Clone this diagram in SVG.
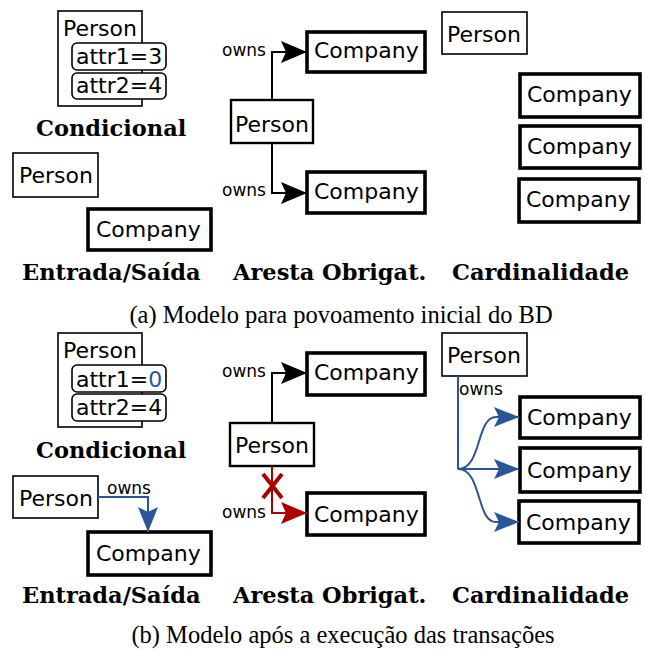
<svg xmlns="http://www.w3.org/2000/svg" width="645" height="650" viewBox="0 0 645 650">
<style>
.bg{fill:#fff}
.box{fill:#fff;stroke:#000}
.thin{stroke-width:1.6}
.mid{stroke-width:2.4}
.thick{stroke-width:3.6}
.attr{fill:#fff;stroke:#000;stroke-width:1.6}
.t{font-family:"DejaVu Sans",sans-serif;font-size:22px;fill:#000}
.lbl{font-family:"DejaVu Sans",sans-serif;font-size:17px;fill:#000}
.cap{font-family:"DejaVu Serif",serif;font-size:22.5px;font-weight:bold;fill:#000}
.sub{font-family:"Liberation Serif","Times New Roman",serif;font-size:24.5px;fill:#000;text-anchor:middle}
.ek{fill:none;stroke:#000;stroke-width:2}
.eb{fill:none;stroke:#2a5599;stroke-width:2}
.er{fill:none;stroke:#aa0000;stroke-width:2}
</style>
<defs>
<marker id="aK" markerUnits="userSpaceOnUse" markerWidth="28" markerHeight="24" refX="26" refY="12" orient="auto"><path d="M0,1 L26,12 L0,23 L5,12 Z" fill="#000"/></marker>
<marker id="aR" markerUnits="userSpaceOnUse" markerWidth="28" markerHeight="24" refX="26" refY="12" orient="auto"><path d="M0,1 L26,12 L0,23 L5,12 Z" fill="#aa0000"/></marker>
<marker id="aB" markerUnits="userSpaceOnUse" markerWidth="28" markerHeight="24" refX="25" refY="12" orient="auto"><path d="M0,2 L25,12 L0,22 L5,12 Z" fill="#2a5599"/></marker>
</defs>
<rect class="bg" x="0" y="0" width="645" height="650"/>

<!-- ===== (a) ===== -->
<g id="a-cond-person">
<rect class="box thin" x="58" y="11" width="84" height="95"/>
<text class="t" x="63" y="36">Person</text>
</g>
<g id="a-cond-attr1">
<rect class="attr" x="72" y="43" width="94" height="27" rx="5"/>
<text class="t" x="76" y="64">attr1=3</text>
</g>
<g id="a-cond-attr2">
<rect class="attr" x="72" y="73" width="94" height="26" rx="5"/>
<text class="t" x="76" y="93">attr2=4</text>
</g>
<text class="cap" x="36" y="136">Condicional</text>

<g id="a-io-person">
<rect class="box thin" x="13" y="153" width="85" height="44"/>
<text class="t" x="19" y="183">Person</text>
</g>
<g id="a-io-company">
<rect class="box thick" x="88" y="209" width="123" height="41"/>
<text class="t" x="96" y="237">Company</text>
</g>

<g id="a-ae-company1">
<rect class="box thick" x="307" y="32" width="118" height="40"/>
<text class="t" x="314" y="58">Company</text>
</g>
<g id="a-ae-person">
<rect class="box mid" x="231" y="100" width="82" height="43"/>
<text class="t" x="235" y="132">Person</text>
</g>
<g id="a-ae-company2">
<rect class="box thick" x="307" y="172" width="118" height="41"/>
<text class="t" x="314" y="199">Company</text>
</g>

<g id="a-card-person">
<rect class="box thin" x="442" y="12" width="85" height="42"/>
<text class="t" x="447" y="42">Person</text>
</g>
<g id="a-card-company1">
<rect class="box thick" x="520" y="74" width="120" height="43"/>
<text class="t" x="527" y="102">Company</text>
</g>
<g id="a-card-company2">
<rect class="box thick" x="520" y="126" width="120" height="42"/>
<text class="t" x="527" y="154">Company</text>
</g>
<g id="a-card-company3">
<rect class="box thick" x="519" y="179" width="120" height="43"/>
<text class="t" x="526" y="207">Company</text>
</g>

<g id="a-connectors">
<path class="ek" d="M272,100 V52 H307" marker-end="url(#aK)"/>
<path class="ek" d="M272,143 V193 H307" marker-end="url(#aK)"/>
<text class="lbl" x="222" y="56">owns</text>
<text class="lbl" x="222" y="196">owns</text>
</g>

<text class="cap" x="22" y="280">Entrada/Saída</text>
<text class="cap" x="233" y="280">Aresta Obrigat.</text>
<text class="cap" x="452" y="280">Cardinalidade</text>
<text class="sub" x="341" y="323">(a) Modelo para povoamento inicial do BD</text>

<!-- ===== (b) ===== -->
<g id="b-cond-person">
<rect class="box thin" x="58" y="333" width="84" height="94"/>
<text class="t" x="63" y="358">Person</text>
</g>
<g id="b-cond-attr1">
<rect class="attr" x="72" y="365" width="94" height="27" rx="5"/>
<text class="t" x="76" y="387">attr1=<tspan fill="#2a5599">0</tspan></text>
</g>
<g id="b-cond-attr2">
<rect class="attr" x="72" y="394" width="94" height="27" rx="5"/>
<text class="t" x="76" y="415">attr2=4</text>
</g>
<text class="cap" x="36" y="458">Condicional</text>

<g id="b-io-person">
<rect class="box thin" x="13" y="476" width="85" height="42"/>
<text class="t" x="19" y="506">Person</text>
</g>
<g id="b-io-company">
<rect class="box thick" x="88" y="532" width="123" height="43"/>
<text class="t" x="96" y="561">Company</text>
</g>

<g id="b-ae-company1">
<rect class="box thick" x="307" y="353" width="118" height="42"/>
<text class="t" x="314" y="380">Company</text>
</g>
<g id="b-ae-person">
<rect class="box mid" x="230" y="423" width="84" height="43"/>
<text class="t" x="235" y="453">Person</text>
</g>
<g id="b-ae-company2">
<rect class="box thick" x="307" y="493" width="118" height="42"/>
<text class="t" x="314" y="522">Company</text>
</g>

<g id="b-card-person">
<rect class="box thin" x="442" y="333" width="85" height="43"/>
<text class="t" x="447" y="363">Person</text>
</g>
<g id="b-card-company1">
<rect class="box thick" x="520" y="397" width="120" height="41"/>
<text class="t" x="527" y="425">Company</text>
</g>
<g id="b-card-company2">
<rect class="box thick" x="520" y="448" width="120" height="44"/>
<text class="t" x="527" y="478">Company</text>
</g>
<g id="b-card-company3">
<rect class="box thick" x="519" y="501" width="120" height="42"/>
<text class="t" x="526" y="530">Company</text>
</g>

<g id="b-connectors">
<path class="eb" d="M98,497 H148 V532" marker-end="url(#aB)"/>
<text class="lbl" x="107" y="494">owns</text>

<path class="ek" d="M272,423 V373 H307" marker-end="url(#aK)"/>
<text class="lbl" x="222" y="377">owns</text>
<path class="er" d="M272,466 V513 H307" marker-end="url(#aR)"/>
<path d="M263,474 L282,498 M282,474 L263,498" fill="none" stroke="#aa0000" stroke-width="4"/>
<text class="lbl" x="222" y="518">owns</text>

<path class="eb" d="M458,376 V469"/>
<path class="eb" d="M458,469 C482,469 476,417 496,417 H519" marker-end="url(#aB)"/>
<path class="eb" d="M458,469 H519" marker-end="url(#aB)"/>
<path class="eb" d="M458,469 C482,469 476,522 496,522 H519" marker-end="url(#aB)"/>
<text class="lbl" x="459" y="395">owns</text>
</g>

<text class="cap" x="22" y="603">Entrada/Saída</text>
<text class="cap" x="233" y="603">Aresta Obrigat.</text>
<text class="cap" x="452" y="603">Cardinalidade</text>
<text class="sub" x="343" y="643">(b) Modelo após a execução das transações</text>
</svg>
